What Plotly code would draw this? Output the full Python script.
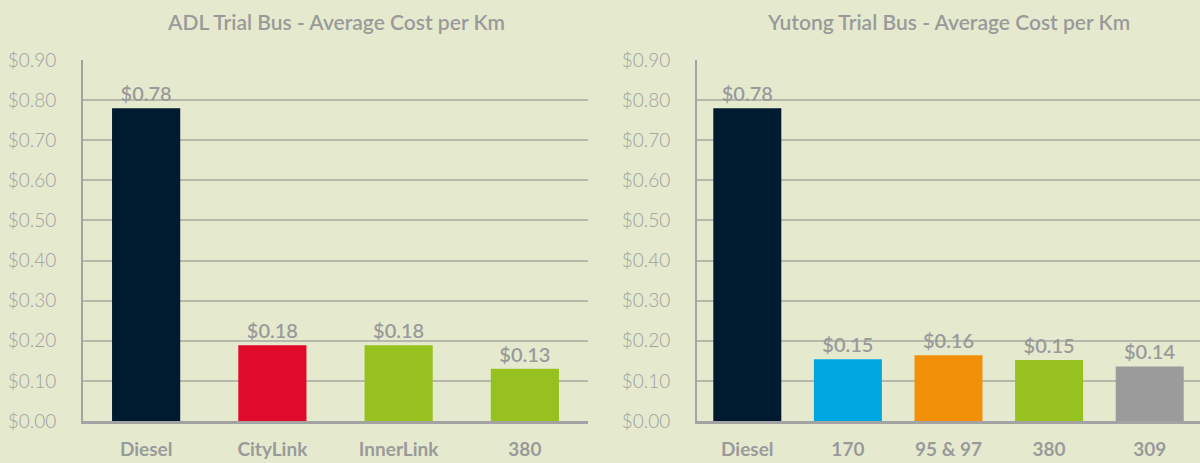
import plotly.graph_objects as go

# Data
adl_categories = ["Diesel", "CityLink", "InnerLink", "380"]
adl_values = [0.78, 0.189, 0.189, 0.13]
adl_labels = ["$0.78", "$0.18", "$0.18", "$0.13"]
adl_colors = ["#001a30", "#e00a2b", "#96c11f", "#96c11f"]

yutong_categories = ["Diesel", "170", "95 & 97", "380", "309"]
yutong_values = [0.78, 0.154, 0.164, 0.152, 0.136]
yutong_labels = ["$0.78", "$0.15", "$0.16", "$0.15", "$0.14"]
yutong_colors = ["#001a30", "#00a7e1", "#f29109", "#96c11f", "#9b9b9b"]

y_ticks = [0, 0.1, 0.2, 0.3, 0.4, 0.5, 0.6, 0.7, 0.8, 0.9]
y_ticktext = ["$%.2f" % v for v in y_ticks]

titles = ["ADL Trial Bus - Average Cost per Km", "Yutong Trial Bus - Average Cost per Km"]

BG = "#e5eacf"
TXT = "#9a9a9a"
GRID = "#b6b8ac"
AXIS = "#a3a3a3"
FONT = "Lato"

fig = go.Figure()
fig.add_trace(go.Bar(
    x=adl_categories, y=adl_values, marker=dict(color=adl_colors, line=dict(width=0)),
    text=adl_labels, textposition="outside", cliponaxis=False,
    textfont=dict(family=FONT, size=20, color=TXT, weight=600),
    xaxis="x", yaxis="y", width=0.54, showlegend=False, hoverinfo="skip"))
fig.add_trace(go.Bar(
    x=yutong_categories, y=yutong_values, marker=dict(color=yutong_colors, line=dict(width=0)),
    text=yutong_labels, textposition="outside", cliponaxis=False,
    textfont=dict(family=FONT, size=20, color=TXT, weight=600),
    xaxis="x2", yaxis="y2", width=0.676, showlegend=False, hoverinfo="skip"))

xdoms = [[83 / 1200, 588 / 1200], [697 / 1200, 1.0]]
ydom = [42 / 463, 403 / 463]

common_x = dict(showline=True, linewidth=3, linecolor=AXIS, showgrid=False, zeroline=False,
                ticks="", ticklabelstandoff=9, automargin=False,
                tickfont=dict(family=FONT, size=19, color=TXT, weight=700), fixedrange=True)
common_y = dict(range=[0, 0.9], tickvals=y_ticks, ticktext=y_ticktext, showline=True,
                linewidth=2, linecolor=AXIS, showgrid=True, gridcolor=GRID, gridwidth=2,
                zeroline=False, ticks="", ticklabelstandoff=21, automargin=False,
                tickfont=dict(family=FONT, size=19, color="#a0a0a0", weight=300), fixedrange=True)

fig.update_layout(
    width=1200, height=463, margin=dict(l=0, r=0, t=0, b=0, autoexpand=False),
    paper_bgcolor=BG, plot_bgcolor=BG,
    font=dict(family=FONT, color=TXT),
    xaxis=dict(domain=xdoms[0], anchor="y", **common_x),
    yaxis=dict(domain=ydom, anchor="x", **common_y),
    xaxis2=dict(domain=xdoms[1], anchor="y2", **common_x),
    yaxis2=dict(domain=ydom, anchor="x2", **common_y),
    bargap=0.4,
)

for i, t in enumerate(titles):
    fig.add_annotation(text=t, x=(xdoms[i][0] + xdoms[i][1]) / 2, y=1 - 21 / 463,
                       xref="paper", yref="paper", xanchor="center", yanchor="middle",
                       showarrow=False,
                       font=dict(family=FONT, size=21, color=TXT, weight=600))

fig.write_html("out.html", config={"displayModeBar": False})

with open("out.html", "r", encoding="utf-8") as f:
    html = f.read()
html = html.replace("<head>", "<head><style>html,body{margin:0;padding:0;overflow:hidden;background:%s;}</style>" % BG, 1)
with open("out.html", "w", encoding="utf-8") as f:
    f.write(html)
